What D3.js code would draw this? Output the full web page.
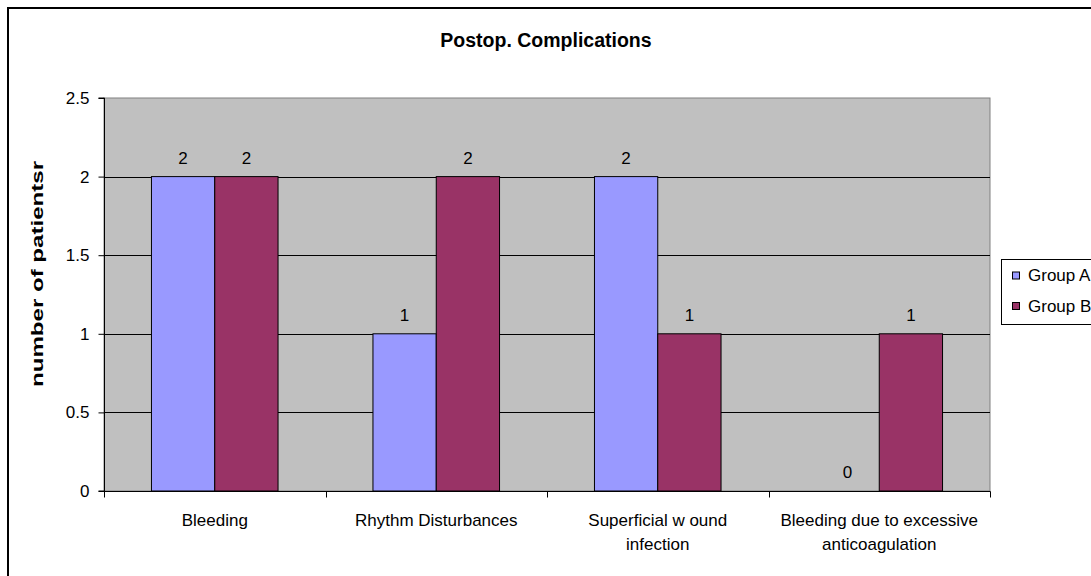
<!DOCTYPE html>
<html>
<head>
<meta charset="utf-8">
<script src="https://cdn.jsdelivr.net/npm/d3@7"></script>
<style>
  html, body { margin: 0; padding: 0; background: #fff; }
  svg { display: block; font-family: "Liberation Sans", Arial, sans-serif; }
</style>
</head>
<body>
<svg id="chart" width="1091" height="576"></svg>
<script>
// Postoperative complications per group
const categories = [
  ["Bleeding"],
  ["Rhythm Disturbances"],
  ["Superficial w ound", "infection"],
  ["Bleeding due to excessive", "anticoagulation"]
];
const seriesNames = ["Group A", "Group B"];
const groupA = [2, 1, 2, 0];
const groupB = [2, 2, 1, 1];
const yTicks = [0, 0.5, 1, 1.5, 2, 2.5];

const colors = ["#9999FF", "#993366"];
const series = [groupA, groupB];
const FS = 17;

const svg = d3.select("#chart");

// Outer chart frame
svg.append("rect")
  .attr("x", 8).attr("y", 8)
  .attr("width", 1100).attr("height", 600)
  .attr("fill", "#fff")
  .attr("stroke", "#000").attr("stroke-width", 2);

const plot = { left: 104, top: 98, right: 990, bottom: 491 };

const x = d3.scaleBand()
  .domain(d3.range(categories.length))
  .range([plot.left, plot.right])
  .paddingInner(0).paddingOuter(0);

const y = d3.scaleLinear()
  .domain([0, 2.5])
  .range([plot.bottom, plot.top]);

// Plot area background
svg.append("rect")
  .attr("x", plot.left).attr("y", plot.top)
  .attr("width", plot.right - plot.left)
  .attr("height", plot.bottom - plot.top)
  .attr("fill", "#C0C0C0")
  .attr("stroke", "#808080").attr("stroke-width", 1);

// Horizontal gridlines
svg.append("g")
  .selectAll("line")
  .data(yTicks.filter(t => t > 0 && t < 2.5))
  .join("line")
  .attr("x1", plot.left).attr("x2", plot.right)
  .attr("y1", d => Math.round(y(d)) + 0.5)
  .attr("y2", d => Math.round(y(d)) + 0.5)
  .attr("stroke", "#000").attr("stroke-width", 1);

// Bars: gap width 150% of a bar
const bw = x.bandwidth() / 3.5;
const gap = bw * 0.75;

series.forEach((vals, si) => {
  svg.append("g")
    .selectAll("rect")
    .data(vals)
    .join("rect")
    .attr("x", (d, i) => x(i) + gap + si * bw)
    .attr("y", d => y(d))
    .attr("width", bw)
    .attr("height", d => y(0) - y(d))
    .attr("fill", colors[si])
    .attr("stroke", "#000").attr("stroke-width", 1)
    .attr("visibility", d => d === 0 ? "hidden" : "visible");

  // value labels
  svg.append("g")
    .selectAll("text")
    .data(vals)
    .join("text")
    .attr("x", (d, i) => x(i) + gap + si * bw + bw / 2)
    .attr("y", d => y(d) - 13)
    .attr("text-anchor", "middle")
    .attr("font-size", FS)
    .attr("fill", "#000")
    .text(d => d);
});

// Y axis
const yAxis = d3.axisLeft(y)
  .tickValues(yTicks)
  .tickSize(6)
  .tickFormat(d => d);
const yg = svg.append("g")
  .attr("transform", `translate(${plot.left + 0.5},0)`)
  .call(yAxis);
yg.select(".domain").attr("stroke", "#000").attr("d", `M-6,${plot.top}H0V${plot.bottom}H-6`);
yg.selectAll(".tick line").attr("stroke", "#000");
yg.selectAll(".tick text")
  .attr("font-size", FS)
  .attr("font-family", "Liberation Sans, Arial, sans-serif")
  .attr("fill", "#000")
  .attr("x", -15);

// X axis
const xg = svg.append("g")
  .attr("transform", `translate(0,${plot.bottom + 0.5})`);
xg.append("line")
  .attr("x1", plot.left).attr("x2", plot.right + 0.5)
  .attr("stroke", "#000");
xg.selectAll("line.tick")
  .data(d3.range(categories.length + 1))
  .join("line")
  .attr("class", "tick")
  .attr("x1", i => Math.round(i < categories.length ? x(i) : plot.right) + 0.5)
  .attr("x2", i => Math.round(i < categories.length ? x(i) : plot.right) + 0.5)
  .attr("y1", 0).attr("y2", 6)
  .attr("stroke", "#000");

const xl = xg.selectAll("text")
  .data(categories)
  .join("text")
  .attr("text-anchor", "middle")
  .attr("font-size", FS)
  .attr("fill", "#000")
  .attr("transform", (d, i) => `translate(${x(i) + x.bandwidth() / 2},0)`);
xl.selectAll("tspan")
  .data(d => d)
  .join("tspan")
  .attr("x", 0)
  .attr("y", (d, j) => 34 + j * 24.5)
  .text(d => d);

// Title
svg.append("text")
  .attr("x", 546).attr("y", 47)
  .attr("text-anchor", "middle")
  .attr("font-size", 19.5)
  .attr("font-weight", "bold")
  .text("Postop. Complications");

// Y axis title
svg.append("text")
  .attr("transform", "translate(43,274) rotate(-90)")
  .attr("text-anchor", "middle")
  .attr("font-size", FS)
  .attr("font-weight", "bold")
  .attr("textLength", 226)
  .attr("lengthAdjust", "spacingAndGlyphs")
  .text("number of patientsr");

// Legend
const lg = svg.append("g");
lg.append("rect")
  .attr("x", 1001.5).attr("y", 259.5)
  .attr("width", 120).attr("height", 65)
  .attr("fill", "#fff").attr("stroke", "#000");
seriesNames.forEach((name, i) => {
  const cy = 275.5 + i * 30.5;
  lg.append("rect")
    .attr("x", 1012.5).attr("y", cy - 3.5)
    .attr("width", 7).attr("height", 7)
    .attr("fill", colors[i]).attr("stroke", "#000");
  lg.append("text")
    .attr("x", 1028).attr("y", cy + 5.5)
    .attr("font-size", FS)
    .text(name);
});
</script>
</body>
</html>
